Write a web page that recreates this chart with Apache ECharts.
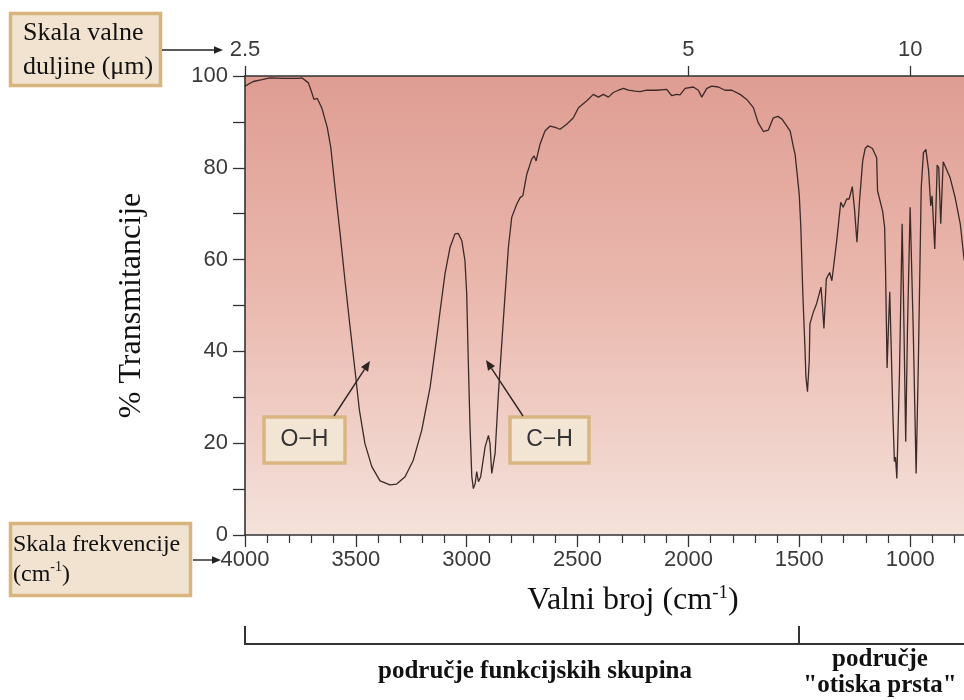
<!DOCTYPE html>
<html>
<head>
<meta charset="utf-8">
<script src="https://cdn.jsdelivr.net/npm/echarts@6/dist/echarts.min.js"></script>
<style>html,body{margin:0;padding:0;background:#fff;}#main{width:964px;height:700px;}</style>
</head>
<body>
<div id="main"></div>
<script>
// Wavenumber (cm-1) positions of the traced spectrum
const wavenumber = [4000,3963,3923,3887,3827,3760,3744,3714,3699,3689,
3674,3654,3629,3613,3594,3571,3549,3526,3504,3484,
3459,3428,3391,3346,3316,3278,3241,3203,3165,3135,
3120,3098,3075,3053,3038,3022,3008,3000,2993,2985,
2977,2970,2962,2955,2947,2937,2917,2902,2895,2887,
2880,2872,2857,2835,2812,2797,2774,2759,2747,2729,
2707,2696,2687,2669,2647,2624,2601,2579,2549,2519,
2496,2458,2429,2406,2384,2361,2339,2316,2293,2271,
2241,2218,2188,2143,2098,2075,2068,2053,2038,2015,
1978,1955,1940,1917,1895,1865,1835,1804,1767,1737,
1707,1686,1662,1640,1617,1596,1578,1556,1541,1526,
1519,1505,1500,1493,1484,1474,1470,1463,1455,1452,
1437,1422,1402,1395,1389,1378,1363,1353,1331,1313,
1302,1286,1275,1261,1251,1240,1228,1214,1203,1191,
1170,1151,1147,1124,1115,1111,1104,1098,1092,1085,
1078,1071,1066,1060,1048,1036,1030,1020,1012,1000,
993,986,973,963,950,940,929,917,907,901,
889,878,871,862,851,842,820,797,774,756];

// % Transmittance at those wavenumbers
const transmittance = [97.8,98.8,99.2,99.6,99.5,99.5,99.6,98.5,96.4,94.9,
95.1,93.1,88.8,84.4,75.7,65.6,55.4,45.3,35.9,27.2,
19.9,14.9,11.8,10.9,11.1,12.7,16.3,22.8,32.2,43.1,
48.8,56.9,62.7,65.6,65.7,64.1,59.8,52.5,38.0,23.5,
12.7,10.1,11.2,13.8,11.6,12.7,19.2,21.7,19.9,13.4,
13.0,17.8,30.8,46.7,62.7,69.2,72.1,73.5,73.9,78.6,
81.9,82.6,81.5,85.2,88.0,89.1,88.8,88.4,89.5,90.9,
93.1,94.6,96.0,95.4,96.0,95.4,96.4,96.9,97.3,96.9,
96.7,96.6,96.9,96.9,97.1,95.7,95.7,96.0,95.9,97.3,
97.6,96.9,95.4,97.3,97.8,97.6,96.9,96.9,96.0,94.9,
93.1,89.9,87.9,88.2,90.9,91.2,90.6,89.1,88.0,84.4,
83.0,76.5,74,67.0,52.5,40.2,34.4,31.2,38.0,46.0,
48.5,50.4,54.0,49.6,45.0,55.8,57.2,55.4,64.2,72.5,
71.4,73.2,73.2,75.9,71,63.8,73,81.5,84.2,84.8,
84.2,82.2,75,70.5,67,58,36.4,45,53,40,
26.5,16,17,12.3,35.5,67.8,52,20.3,45,71.4,
71,44.6,13.4,37.6,75.7,83.3,84,79.5,71.7,73.9,
62.3,80.6,80,67.8,81.3,81.6,77.9,73.5,67.8,59.8];

// Top wavelength scale (micrometres)
const wavelengthTicks = [2.5, 5, 10];

const wlPositions = wavelengthTicks.map(l => 10000 / l);
const seriesData = wavenumber.map((w, i) => [w, transmittance[i]]);

const SANS = '"Liberation Sans", Arial, sans-serif';
const SERIF = '"Liberation Serif", "Times New Roman", serif';
const AX = '#333';

function box(x, y, w, h, fill, stroke) {
  return {type: 'rect', shape: {x: x, y: y, width: w, height: h},
    style: {fill: fill, stroke: stroke, lineWidth: 3.5}, z: 100};
}
function arrow(x1, y1, x2, y2, color, head) {
  const a = Math.atan2(y2 - y1, x2 - x1);
  const hl = head || 9, hw = hl * 0.42;
  const bx = x2 - hl * Math.cos(a), by = y2 - hl * Math.sin(a);
  const px = -Math.sin(a) * hw, py = Math.cos(a) * hw;
  return [
    {type: 'line', shape: {x1: x1, y1: y1, x2: bx, y2: by}, style: {stroke: color, lineWidth: 1.4}, z: 100},
    {type: 'polygon', shape: {points: [[x2, y2], [bx + px, by + py], [bx - px, by - py]]}, style: {fill: color}, z: 100}
  ];
}

const chart = echarts.init(document.getElementById('main'), null, {renderer: 'canvas'});

const option = {
  animation: false,
  backgroundColor: '#ffffff',
  grid: {
    left: 245, top: 76, width: 776, height: 459, show: true, borderWidth: 0,
    outerBoundsMode: 'none', containLabel: false,
    backgroundColor: new echarts.graphic.LinearGradient(0, 0, 0, 1, [
      {offset: 0, color: '#DF9D93'},
      {offset: 0.5, color: '#EBBAB0'},
      {offset: 1, color: '#F4E2DB'}
    ])
  },
  xAxis: [
    {
      type: 'value', min: 500, max: 4000, interval: 500, inverse: true, position: 'bottom',
      axisLine: {show: true, onZero: false, lineStyle: {color: AX, width: 1.6}},
      axisTick: {show: true, length: 12, lineStyle: {color: AX, width: 1.3}},
      minorTick: {show: true, splitNumber: 5, length: 8, lineStyle: {color: AX, width: 1.2}},
      splitLine: {show: false}, minorSplitLine: {show: false},
      axisLabel: {show: true, margin: 14, fontFamily: SANS, fontSize: 22, color: '#3a3a3a',
        showMinLabel: true, showMaxLabel: true, formatter: v => String(v)},
      name: 'Valni broj (cm{sup|-1})',
      nameLocation: 'middle', nameGap: 49,
      nameTextStyle: {fontFamily: SERIF, fontSize: 32, color: '#111',
        rich: {sup: {fontFamily: SERIF, fontSize: 19, color: '#111', verticalAlign: 'top', padding: [0, 0, 14, 0]}}}
    },
    {
      type: 'value', min: 500, max: 4000, inverse: true, position: 'top',
      axisLine: {show: true, onZero: false, lineStyle: {color: AX, width: 1.6}},
      axisTick: {show: true, length: 10, customValues: wlPositions, lineStyle: {color: AX, width: 1.3}},
      splitLine: {show: false},
      axisLabel: {show: true, margin: 15, customValues: wlPositions, fontFamily: SANS, fontSize: 22, color: '#3a3a3a',
        formatter: v => String(+(10000 / v).toFixed(2))}
    }
  ],
  yAxis: {
    type: 'value', min: 0, max: 100, interval: 10,
    axisLine: {show: true, onZero: false, lineStyle: {color: AX, width: 1.6}},
    axisTick: {show: true, length: 12, lineStyle: {color: AX, width: 1.3}},
    splitLine: {show: false},
    axisLabel: {margin: 17, fontFamily: SANS, fontSize: 22, color: '#3a3a3a',
      formatter: v => (v % 20 === 0 ? String(v) : '')},
    name: '% Transmitancije', nameLocation: 'middle', nameGap: 97, nameRotate: 90,
    nameTextStyle: {fontFamily: SERIF, fontSize: 32, color: '#111'}
  },
  series: [{
    type: 'line', xAxisIndex: 0, yAxisIndex: 0, data: seriesData,
    showSymbol: false, symbol: 'none', silent: true,
    lineStyle: {color: '#3b2a27', width: 1.3},
    z: 5
  }],
  graphic: [
    box(10.5, 13.5, 150, 72, '#F2E3D0', '#D8B47E'),
    {type: 'text', left: 23, top: 16, z: 101,
      style: {text: 'Skala valne\nduljine (μm)', font: '26px ' + SERIF, fill: '#111', lineHeight: 34}},
    ...arrow(162, 50, 223, 50, '#222', 9),
    box(10.5, 523.5, 180, 72, '#F2E3D0', '#D8B47E'),
    {type: 'text', left: 13, top: 530, z: 101,
      style: {text: 'Skala frekvencije\n(cm{sup|-1})', font: '24px ' + SERIF, fill: '#111', lineHeight: 30,
        rich: {sup: {font: '14px ' + SERIF, fill: '#111', verticalAlign: 'top', padding: [0, 0, 10, 0]}}}},
    ...arrow(193, 560, 221, 560, '#222', 9),
    box(264, 417, 81, 46, '#F3E5D3', '#D9B582'),
    {type: 'text', x: 304.5, y: 440, z: 101,
      style: {text: 'O\u2212H', font: '23px ' + SANS, fill: '#333', align: 'center', verticalAlign: 'middle'}},
    ...arrow(334, 416, 370, 361, '#2e2522', 10),
    box(510, 417, 79, 46, '#F3E5D3', '#D9B582'),
    {type: 'text', x: 549.5, y: 440, z: 101,
      style: {text: 'C\u2212H', font: '23px ' + SANS, fill: '#333', align: 'center', verticalAlign: 'middle'}},
    ...arrow(523, 416, 486, 360, '#2e2522', 10),
    {type: 'polyline', shape: {points: [[245, 626], [245, 644], [964, 644]]}, style: {stroke: '#333', lineWidth: 2, fill: null}},
    {type: 'line', shape: {x1: 799, y1: 626, x2: 799, y2: 644}, style: {stroke: '#333', lineWidth: 2}},
    {type: 'text', x: 535, y: 672,
      style: {text: 'područje funkcijskih skupina', font: 'bold 25px ' + SERIF, fill: '#111', align: 'center', verticalAlign: 'middle'}},
    {type: 'text', x: 880, y: 673,
      style: {text: 'područje\n"otiska prsta"', font: 'bold 25px ' + SERIF, fill: '#111', align: 'center', verticalAlign: 'middle', lineHeight: 26}}
  ]
};

chart.setOption(option);
</script>
</body>
</html>
